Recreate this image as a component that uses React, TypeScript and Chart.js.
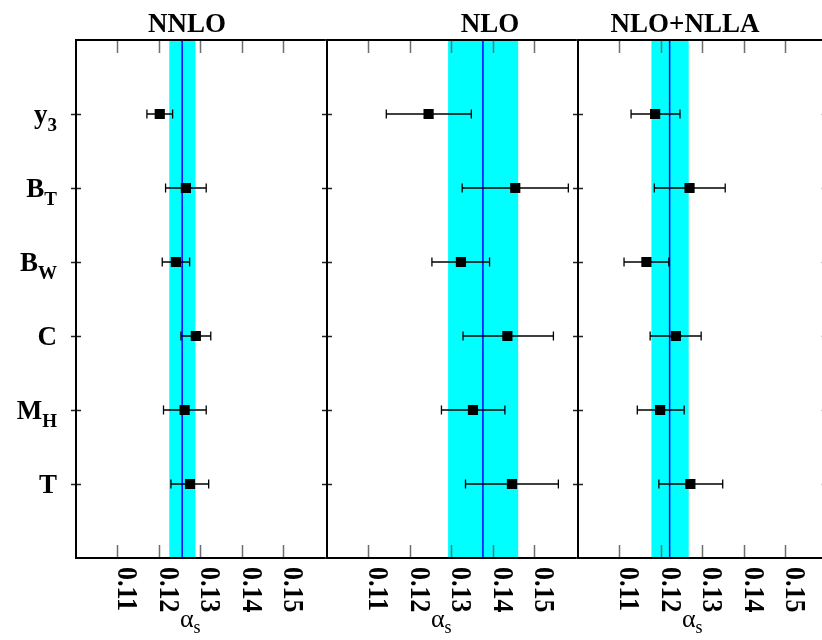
import React, { useEffect, useRef } from "react";
import { Chart, registerables } from "chart.js";

Chart.register(...registerables);

// ---- data ----
const catMain = ["y", "B", "B", "C", "M", "T"];
const catSub = ["3", "T", "W", "", "H", ""];
const panelTitles = ["NNLO", "NLO", "NLO+NLLA"];
const xTicks = [0.11, 0.12, 0.13, 0.14, 0.15];
const tickLabels = ["0.11", "0.12", "0.13", "0.14", "0.15"];
const xMin = 0.1;
const xMax = 0.16;
const yMin = 0;
const yMax = 7;

const nnloValues = [0.1202, 0.1265, 0.1241, 0.1289, 0.1262, 0.1275];
const nnloLow = [0.1171, 0.1216, 0.1208, 0.1253, 0.1211, 0.1229];
const nnloHigh = [0.1233, 0.1314, 0.1274, 0.1325, 0.1314, 0.132];
const nnloAverage = 0.1256;
const nnloBand = [0.1225, 0.1288];

const nloValues = [0.1245, 0.1454, 0.1323, 0.1435, 0.1352, 0.1446];
const nloLow = [0.1143, 0.1326, 0.1253, 0.1328, 0.1276, 0.1334];
const nloHigh = [0.1348, 0.1582, 0.1392, 0.1546, 0.1429, 0.1558];
const nloAverage = 0.1376;
const nloBand = [0.1292, 0.1461];

const nllaValues = [0.1186, 0.1269, 0.1165, 0.1236, 0.1198, 0.1271];
const nllaLow = [0.1128, 0.1184, 0.1111, 0.1174, 0.1143, 0.1195];
const nllaHigh = [0.1246, 0.1355, 0.1219, 0.1297, 0.1256, 0.1349];
const nllaAverage = 0.1221;
const nllaBand = [0.1177, 0.1267];

const panels = [
  { values: nnloValues, low: nnloLow, high: nnloHigh, avg: nnloAverage, band: nnloBand },
  { values: nloValues, low: nloLow, high: nloHigh, avg: nloAverage, band: nloBand },
  { values: nllaValues, low: nllaLow, high: nllaHigh, avg: nllaAverage, band: nllaBand },
];

// ---- layout (style) ----
const PANEL_W = 251;
const LEFT = 76;
const TOP = 40;
const BOTTOM = 558;
const CANVAS_W = 332;
const CANVAS_H = 640;
const titleOffsets = [111, 163, 107];
const SERIF = '"Liberation Serif", "DejaVu Serif", serif';

function Panel({ index }: { index: number }) {
  const ref = useRef<HTMLCanvasElement | null>(null);
  useEffect(() => {
    const p = panels[index];
    const canvas = ref.current!;
    const overlay = {
      id: "overlay" + index,
      beforeDatasetsDraw(chart: any) {
        const ctx = chart.ctx;
        const xs = chart.scales.x;
        const ys = chart.scales.y;
        const top = ys.getPixelForValue(yMin);
        const bottom = ys.getPixelForValue(yMax);
        ctx.save();
        // band
        const b0 = xs.getPixelForValue(p.band[0]);
        const b1 = xs.getPixelForValue(p.band[1]);
        ctx.fillStyle = "#00ffff";
        ctx.fillRect(b0, top, b1 - b0, bottom - top);
        // average line
        const ax = xs.getPixelForValue(p.avg);
        ctx.strokeStyle = "#0000ff";
        ctx.lineWidth = 1.5;
        ctx.beginPath();
        ctx.moveTo(ax, top);
        ctx.lineTo(ax, bottom);
        ctx.stroke();
        // error bars
        ctx.strokeStyle = "#000";
        ctx.lineWidth = 1.3;
        p.values.forEach((_, i) => {
          const y = ys.getPixelForValue(i + 1);
          const l = xs.getPixelForValue(p.low[i]);
          const h = xs.getPixelForValue(p.high[i]);
          ctx.beginPath();
          ctx.moveTo(l, y);
          ctx.lineTo(h, y);
          ctx.moveTo(l, y - 4.5);
          ctx.lineTo(l, y + 4.5);
          ctx.moveTo(h, y - 4.5);
          ctx.lineTo(h, y + 4.5);
          ctx.stroke();
        });
        ctx.restore();
      },
      afterDatasetsDraw(chart: any) {
        const ctx = chart.ctx;
        const xs = chart.scales.x;
        const ys = chart.scales.y;
        const left = xs.getPixelForValue(xMin);
        const right = xs.getPixelForValue(xMax);
        const top = ys.getPixelForValue(yMin);
        const bottom = ys.getPixelForValue(yMax);
        ctx.save();
        // x ticks (inward, top and bottom)
        ctx.strokeStyle = "#6e6e6e";
        ctx.lineWidth = 1.5;
        xTicks.forEach((t) => {
          const x = Math.round(xs.getPixelForValue(t)) + 0.5;
          ctx.beginPath();
          ctx.moveTo(x, bottom);
          ctx.lineTo(x, bottom - 13);
          ctx.moveTo(x, top);
          ctx.lineTo(x, top + 13);
          ctx.stroke();
        });
        // y ticks (crossing the left border)
        ctx.strokeStyle = "#222";
        ctx.lineWidth = 1.5;
        catMain.forEach((_, i) => {
          const y = Math.round(ys.getPixelForValue(i + 1)) + 0.5;
          ctx.beginPath();
          ctx.moveTo(left - 5, y);
          ctx.lineTo(left + 5, y);
          if (index === panels.length - 1) {
            ctx.moveTo(right - 5, y);
            ctx.lineTo(right + 5, y);
          }
          ctx.stroke();
        });
        // border
        ctx.strokeStyle = "#000";
        ctx.lineWidth = 2;
        ctx.beginPath();
        ctx.moveTo(left, top);
        ctx.lineTo(left, bottom);
        ctx.moveTo(left - 1, top);
        ctx.lineTo(right + 1, top);
        ctx.moveTo(left - 1, bottom);
        ctx.lineTo(right + 1, bottom);
        if (index === panels.length - 1) {
          ctx.moveTo(right, top);
          ctx.lineTo(right, bottom);
        }
        ctx.stroke();
        // tick labels (rotated, reading downward)
        ctx.fillStyle = "#000";
        ctx.font = `bold 26px ${SERIF}`;
        xTicks.forEach((t, k) => {
          const x = xs.getPixelForValue(t);
          ctx.save();
          ctx.translate(x + 1, 567);
          ctx.rotate(Math.PI / 2);
          ctx.scale(1, 1.12);
          ctx.textAlign = "left";
          ctx.textBaseline = "alphabetic";
          ctx.fillText(tickLabels[k], 0, 0);
          ctx.restore();
        });
        // alpha_s
        ctx.textAlign = "left";
        ctx.textBaseline = "alphabetic";
        ctx.font = `26px ${SERIF}`;
        ctx.fillText("α", left + 104, 627);
        const aw = ctx.measureText("α").width;
        ctx.font = `18px ${SERIF}`;
        ctx.fillText("s", left + 104 + aw, 633);
        // title
        ctx.font = `bold 27px ${SERIF}`;
        ctx.textAlign = "center";
        ctx.fillText(panelTitles[index], left + titleOffsets[index], 32);
        // category labels
        if (index === 0) {
          catMain.forEach((m, i) => {
            const y = ys.getPixelForValue(i + 1);
            ctx.font = `bold 19px ${SERIF}`;
            const sw = catSub[i] ? ctx.measureText(catSub[i]).width : 0;
            ctx.font = `bold 27px ${SERIF}`;
            const mw = ctx.measureText(m).width;
            const rightEdge = 57;
            ctx.textAlign = "left";
            ctx.fillText(m, rightEdge - sw - mw, y + 8.5);
            if (catSub[i]) {
              ctx.font = `bold 19px ${SERIF}`;
              ctx.fillText(catSub[i], rightEdge - sw, y + 17);
            }
          });
        }
        ctx.restore();
      },
    };
    const chart = new Chart(canvas, {
      type: "scatter",
      data: {
        datasets: [
          {
            data: p.values.map((v, i) => ({ x: v, y: i + 1 })),
            pointStyle: "rect",
            pointRadius: 7.2,
            pointHoverRadius: 7.2,
            backgroundColor: "#000",
            borderColor: "#000",
            borderWidth: 0,
          },
        ],
      },
      options: {
        responsive: false,
        animation: false,
        devicePixelRatio: 1,
        events: [],
        layout: {
          padding: {
            left: LEFT,
            right: CANVAS_W - LEFT - PANEL_W,
            top: TOP,
            bottom: CANVAS_H - BOTTOM,
          },
        },
        plugins: { legend: { display: false }, tooltip: { enabled: false } },
        scales: {
          x: { type: "linear", min: xMin, max: xMax, display: false },
          y: { type: "linear", min: yMin, max: yMax, reverse: true, display: false },
        },
      },
      plugins: [overlay],
    });
    return () => chart.destroy();
  }, [index]);
  return (
    <canvas
      ref={ref}
      width={CANVAS_W}
      height={CANVAS_H}
      style={{
        position: "absolute",
        left: PANEL_W * index,
        top: 0,
        width: CANVAS_W,
        height: CANVAS_H,
      }}
    />
  );
}

export default function App() {
  return (
    <div
      style={{
        position: "absolute",
        left: 0,
        top: 0,
        width: 822,
        height: 640,
        overflow: "hidden",
        background: "#fff",
      }}
    >
      <Panel index={0} />
      <Panel index={1} />
      <Panel index={2} />
    </div>
  );
}
